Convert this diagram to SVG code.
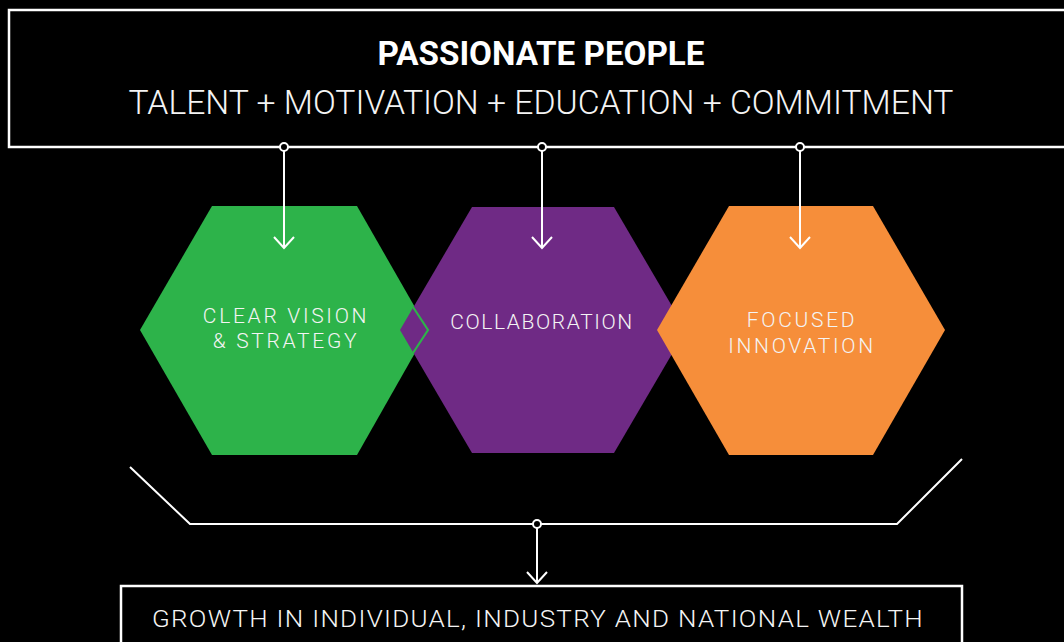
<svg xmlns="http://www.w3.org/2000/svg" width="1064" height="642" viewBox="0 0 1064 642">
  <defs>
    <style>
      .box { fill: #000; stroke: #fff; stroke-width: 2.5; }
      .wire { fill: none; stroke: #fff; stroke-width: 2; stroke-linejoin: miter; }
      .dot { fill: #000; stroke: #fff; stroke-width: 2; }
      .lbl { font-family: Roboto, "Liberation Sans", sans-serif; font-weight: 300; fill: #f4f4f4; text-anchor: middle; }
      .hex-lbl { font-size: 21px; letter-spacing: 1.6px; }
      .wide { letter-spacing: 2.7px; }
    </style>
  </defs>
  <rect x="0" y="0" width="1064" height="642" fill="#000"/>

  <g id="passionate-people">
    <rect class="box" x="9" y="10" width="1070" height="137"/>
    <text x="541" y="65" font-family="Roboto, 'Liberation Sans', sans-serif" font-weight="700" font-size="34" fill="#fff" text-anchor="middle" textLength="327" lengthAdjust="spacingAndGlyphs">PASSIONATE PEOPLE</text>
    <text class="lbl" x="541" y="114" font-size="33" textLength="825" lengthAdjust="spacingAndGlyphs">TALENT + MOTIVATION + EDUCATION + COMMITMENT</text>
  </g>

  <g id="clear-vision">
    <polygon points="212,206 357,206 428,330 357,455 212,455 140,330" fill="#2DB34A"/>
  </g>
  <g id="collaboration">
    <polygon points="472,207 614,207 686,330 614,453 472,453 400,330" fill="#6F2A85"/>
    <polyline points="413,307 428,330 413,353" fill="none" stroke="#2DB34A" stroke-width="2.2"/>
    <text class="lbl hex-lbl" x="542" y="329">COLLABORATION</text>
  </g>
  <g id="clear-vision-label">
    <text class="lbl hex-lbl wide" x="286" y="323">CLEAR VISION</text>
    <text class="lbl hex-lbl wide" x="286" y="348">&amp; STRATEGY</text>
  </g>
  <g id="focused-innovation">
    <polygon points="729,206 873,206 945,330 873,455 729,455 657,330" fill="#F68E3A"/>
    <text class="lbl hex-lbl wide" x="802" y="327">FOCUSED</text>
    <text class="lbl hex-lbl wide" x="802" y="353">INNOVATION</text>
  </g>

  <g id="growth">
    <rect class="box" x="121" y="586" width="841" height="70"/>
    <text class="lbl" x="538" y="627" font-size="24" textLength="772" lengthAdjust="spacingAndGlyphs" letter-spacing="1.2">GROWTH IN INDIVIDUAL, INDUSTRY AND NATIONAL WEALTH</text>
  </g>

  <g id="connectors">
    <line class="wire" x1="284" y1="151" x2="284" y2="248"/>
    <polyline class="wire" points="274,237 284,248 294,237"/>
    <circle class="dot" cx="284" cy="147" r="4"/>
    <line class="wire" x1="542" y1="151" x2="542" y2="248"/>
    <polyline class="wire" points="532,237 542,248 552,237"/>
    <circle class="dot" cx="542" cy="147" r="4"/>
    <line class="wire" x1="800" y1="151" x2="800" y2="248"/>
    <polyline class="wire" points="790,237 800,248 810,237"/>
    <circle class="dot" cx="800" cy="147" r="4"/>

    <polyline class="wire" points="130,467 190,524 897,524 962,459"/>
    <line class="wire" x1="537" y1="528" x2="537" y2="583"/>
    <polyline class="wire" points="527,572 537,583 547,572"/>
    <circle class="dot" cx="537" cy="524" r="4"/>
  </g>
</svg>
